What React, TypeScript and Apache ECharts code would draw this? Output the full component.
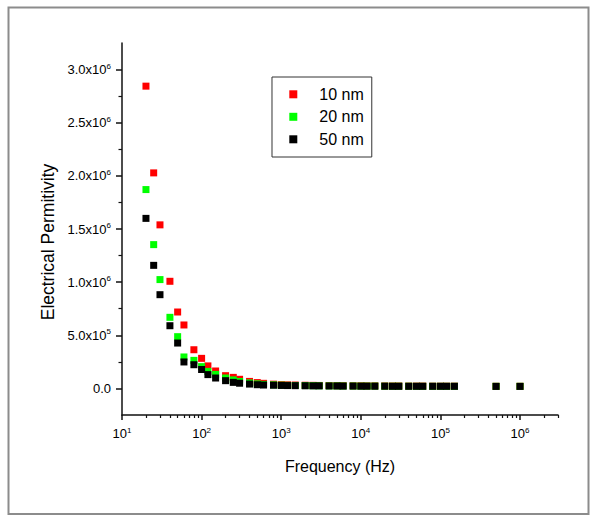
import React, { useEffect, useRef } from "react";
import * as echarts from "echarts";

// ---- data ----
const frequencies = [
  20, 25, 30, 40, 50, 60, 80, 100, 120, 150, 200, 250, 300, 400, 500, 600, 800,
  1000, 1200, 1500, 2000, 2500, 3000, 4000, 5000, 6000, 8000, 10000, 12000, 15000,
  20000, 25000, 30000, 40000, 50000, 60000, 80000, 100000, 120000, 150000, 500000,
  1000000,
];

const perm10nm = [
  2844000, 2028000, 1539000, 1008000, 719000, 597000, 364000, 283000, 212000, 164000,
  120000, 104000, 86000, 66000, 55000, 48000, 40000, 36000, 34000, 32000,
  30000, 29000, 28000, 27000, 26000, 26000, 25000, 25000, 24000, 24000,
  23000, 23000, 23000, 22000, 22000, 22000, 21000, 21000, 21000, 21000,
  20000, 20000,
];

const perm20nm = [
  1871000, 1353000, 1024000, 669000, 487000, 296000, 264000, 205000, 160000, 132000,
  98000, 80000, 65000, 52000, 43000, 38000, 34000, 31000, 29000, 28000,
  27000, 26000, 25000, 24000, 24000, 23000, 23000, 22000, 22000, 22000,
  21000, 21000, 21000, 21000, 20000, 20000, 20000, 20000, 20000, 20000,
  20000, 20000,
];

const perm50nm = [
  1600000, 1158000, 882000, 590000, 427000, 249000, 223000, 178000, 130000, 98000,
  73000, 57000, 49000, 41000, 35000, 32000, 30000, 28000, 27000, 26000,
  25000, 24000, 24000, 23000, 23000, 22000, 22000, 21000, 21000, 21000,
  21000, 20000, 20000, 20000, 20000, 20000, 20000, 20000, 20000, 20000,
  19000, 19000,
];

const seriesNames = ["10 nm", "20 nm", "50 nm"];
const seriesColors = ["#ff0000", "#00ff00", "#000000"];

// axis ticks
const xMajorTicks = [10, 100, 1000, 10000, 100000, 1000000];
const xMinorTicks: number[] = [];
[10, 100, 1000, 10000, 100000, 1000000].forEach((d) => {
  for (let k = 2; k <= 9; k++) {
    if (d * k <= 3000000) xMinorTicks.push(d * k);
  }
});
const yMajorTicks = [0, 500000, 1000000, 1500000, 2000000, 2500000, 3000000];
const yLabelMantissa = ["0.0", "5.0", "1.0", "1.5", "2.0", "2.5", "3.0"];
const yLabelExponent = ["", "5", "6", "6", "6", "6", "6"];
const yMinorTicks = [250000, 750000, 1250000, 1750000, 2250000, 2750000];

const FONT = "'Liberation Sans', Arial, Helvetica, sans-serif";
const AXIS_COLOR = "#111";

export default function App() {
  const ref = useRef<HTMLDivElement>(null);

  useEffect(() => {
    if (!ref.current) return;
    const chart = echarts.init(ref.current, null, { renderer: "svg" });

    const series = [perm10nm, perm20nm, perm50nm].map((vals, si) => ({
      name: seriesNames[si],
      type: "scatter",
      xAxisIndex: 0,
      yAxisIndex: 0,
      symbol: "rect",
      symbolSize: 7,
      itemStyle: { color: seriesColors[si], opacity: 1 },
      data: frequencies.map((f, i) => [f, vals[i]]),
    }));

    const option: any = {
      animation: false,
      backgroundColor: "#ffffff",
      textStyle: { fontFamily: FONT, color: "#000" },
      graphic: [
        {
          type: "rect",
          silent: true,
          z: -10,
          shape: { x: 8.5, y: 7.5, width: 580, height: 506.5 },
          style: { fill: "none", stroke: "#8c8c8c", lineWidth: 2 },
        },
      ],
      legend: {
        orient: "vertical",
        left: 272,
        top: 77,
        padding: [9.3, 8, 9.7, 17.3],
        itemWidth: 8,
        itemHeight: 8,
        itemGap: 6.5,
        icon: "rect",
        borderColor: "#333",
        borderWidth: 1,
        data: seriesNames,
        itemStyle: { opacity: 1 },
        textStyle: { fontSize: 16, fontFamily: FONT, color: "#000", padding: [0, 0, 0, 17] },
      },
      grid: {
        left: 122,
        right: 42,
        top: 43,
        bottom: 109,
        containLabel: false,
        outerBoundsMode: "none",
      },
      xAxis: [
        {
          type: "log",
          logBase: 10,
          min: 10,
          max: 3000000,
          position: "bottom",
          name: "Frequency (Hz)",
          nameLocation: "middle",
          nameGap: 43,
          nameTextStyle: { fontSize: 16, fontFamily: FONT, color: "#000" },
          axisLine: { show: true, onZero: false, lineStyle: { color: AXIS_COLOR, width: 1.5 } },
          axisTick: {
            show: true,
            inside: false,
            length: 5,
            customValues: xMajorTicks,
            lineStyle: { color: AXIS_COLOR, width: 1.5 },
          },
          minorTick: { show: false },
          splitLine: { show: false },
          axisLabel: {
            show: true,
            margin: 11,
            customValues: xMajorTicks,
            formatter: (v: number) => {
              const e = Math.round(Math.log10(v));
              return `{b|10}{s|${e}}`;
            },
            rich: {
              b: { fontSize: 13, fontFamily: FONT, color: "#000", lineHeight: 15, verticalAlign: "middle" },
              s: { fontSize: 8, fontFamily: FONT, color: "#000", lineHeight: 9, verticalAlign: "top" },
            },
          },
        },
        {
          type: "log",
          logBase: 10,
          min: 10,
          max: 3000000,
          position: "bottom",
          offset: 0,
          axisLine: { show: false, onZero: false },
          axisTick: {
            show: true,
            inside: false,
            length: 3,
            customValues: xMinorTicks,
            lineStyle: { color: AXIS_COLOR, width: 1.2 },
          },
          axisLabel: { show: false },
          splitLine: { show: false },
          minorTick: { show: false },
        },
      ],
      yAxis: [
        {
          type: "value",
          min: -250000,
          max: 3250000,
          position: "left",
          name: "Electrical Permitivity",
          nameLocation: "middle",
          nameGap: 60,
          nameTextStyle: {
            fontSize: 17.5,
            fontFamily: FONT,
            color: "#000",
            padding: [0, 26, 0, 0],
          },
          axisLine: { show: true, onZero: false, lineStyle: { color: AXIS_COLOR, width: 1.5 } },
          axisTick: {
            show: true,
            inside: false,
            length: 6,
            customValues: yMajorTicks,
            lineStyle: { color: AXIS_COLOR, width: 1.5 },
          },
          minorTick: { show: false },
          splitLine: { show: false },
          axisLabel: {
            show: true,
            margin: 11,
            customValues: yMajorTicks,
            formatter: (v: number) => {
              const idx = yMajorTicks.indexOf(v);
              if (idx < 0) return "";
              const m = yLabelMantissa[idx];
              const e = yLabelExponent[idx];
              if (!e) return `{b|${m}}`;
              return `{b|${m}x10}{s|${e}}`;
            },
            rich: {
              b: { fontSize: 13, fontFamily: FONT, color: "#000", lineHeight: 15, verticalAlign: "middle" },
              s: { fontSize: 8, fontFamily: FONT, color: "#000", lineHeight: 9, verticalAlign: "top" },
            },
          },
        },
        {
          type: "value",
          min: -250000,
          max: 3250000,
          position: "left",
          offset: 0,
          axisLine: { show: false, onZero: false },
          axisTick: {
            show: true,
            inside: false,
            length: 3.5,
            customValues: yMinorTicks,
            lineStyle: { color: AXIS_COLOR, width: 1.2 },
          },
          axisLabel: { show: false },
          splitLine: { show: false },
          minorTick: { show: false },
        },
      ],
      series,
    };

    chart.setOption(option);
    return () => {
      chart.dispose();
    };
  }, []);

  return (
    <div
      ref={ref}
      style={{ position: "absolute", left: 0, top: 0, width: 600, height: 524 }}
    />
  );
}
